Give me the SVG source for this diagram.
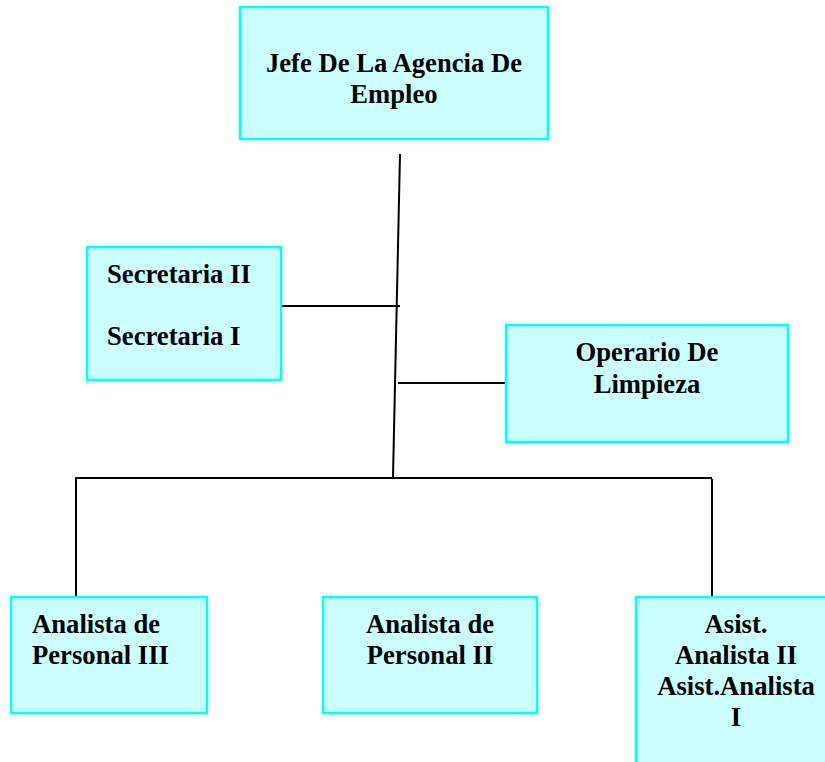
<svg xmlns="http://www.w3.org/2000/svg" width="825" height="762" viewBox="0 0 825 762">
<style>
.box{fill:#CCFFFF;stroke:#00FFFF;stroke-width:2.5}
.t{font-family:"Liberation Serif","Times New Roman",serif;font-weight:bold;font-size:26.67px;fill:#000}
.c{text-anchor:middle}
.ln{stroke:#000;stroke-width:2;fill:none}
</style>
<rect width="825" height="762" fill="#fff"/>
<g id="connectors">
<line class="ln" x1="400" y1="154" x2="393" y2="477"/>
<line class="ln" x1="281" y1="306" x2="400" y2="306"/>
<line class="ln" x1="398" y1="383" x2="506" y2="383"/>
<line class="ln" x1="75" y1="478" x2="712" y2="478"/>
<line class="ln" x1="76" y1="479" x2="76" y2="597"/>
<line class="ln" x1="712" y1="479" x2="712" y2="597"/>
</g>
<g id="jefe">
<rect class="box" x="240" y="7" width="308" height="132"/>
<text class="t c" x="394" y="72">Jefe De La Agencia De</text>
<text class="t c" x="394" y="103">Empleo</text>
</g>
<g id="secretaria">
<rect class="box" x="87" y="247" width="194" height="133"/>
<text class="t" x="107" y="283">Secretaria II</text>
<text class="t" x="107" y="345">Secretaria I</text>
</g>
<g id="operario">
<rect class="box" x="506" y="325" width="282" height="117"/>
<text class="t c" x="647" y="361">Operario De</text>
<text class="t c" x="647" y="393">Limpieza</text>
</g>
<g id="analista3">
<rect class="box" x="11" y="597" width="196" height="116"/>
<text class="t" x="32" y="633">Analista de</text>
<text class="t" x="32" y="664">Personal III</text>
</g>
<g id="analista2">
<rect class="box" x="323" y="597" width="214" height="116"/>
<text class="t c" x="430" y="633">Analista de</text>
<text class="t c" x="430" y="664">Personal II</text>
</g>
<g id="asistente">
<rect class="box" x="636" y="597" width="200" height="180"/>
<text class="t c" x="736" y="633">Asist.</text>
<text class="t c" x="736" y="664">Analista II</text>
<text class="t c" x="736" y="695">Asist.Analista</text>
<text class="t c" x="736" y="726">I</text>
</g>
</svg>
